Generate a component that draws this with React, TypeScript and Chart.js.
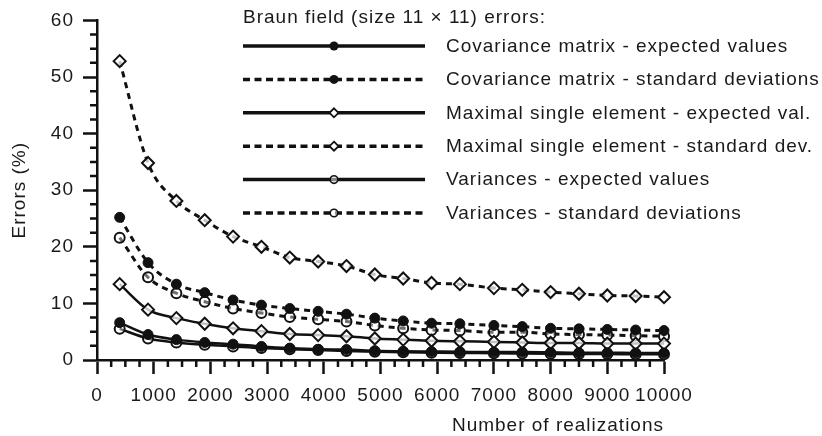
import React, { useEffect, useRef } from 'react';
import { Chart, registerables } from 'chart.js';

Chart.register(...registerables);

// Number of realizations at which the errors were estimated
const realizations = [400, 900, 1400, 1900, 2400, 2900, 3400, 3900, 4400, 4900, 5400, 5900, 6400, 7000, 7500, 8000, 8500, 9000, 9500, 10000];

// Errors (%) per series
const covExpected = [6.6, 4.5, 3.6, 3.1, 2.8, 2.4, 2.1, 1.9, 1.85, 1.65, 1.55, 1.5, 1.45, 1.4, 1.4, 1.35, 1.3, 1.3, 1.25, 1.25];
const covStd = [25.2, 17.2, 13.4, 11.9, 10.6, 9.7, 9.1, 8.6, 8.1, 7.4, 6.9, 6.5, 6.4, 6.1, 5.9, 5.6, 5.5, 5.4, 5.3, 5.2];
const maxExpected = [13.4, 8.9, 7.4, 6.4, 5.6, 5.1, 4.6, 4.4, 4.2, 3.8, 3.6, 3.4, 3.3, 3.2, 3.1, 3.0, 3.0, 2.9, 2.9, 2.9];
const maxStd = [52.8, 34.8, 28.1, 24.7, 21.8, 20.0, 18.1, 17.4, 16.6, 15.1, 14.4, 13.6, 13.4, 12.7, 12.4, 12.0, 11.7, 11.4, 11.3, 11.1];
const varExpected = [5.5, 3.8, 3.1, 2.7, 2.4, 2.1, 1.9, 1.75, 1.6, 1.45, 1.35, 1.3, 1.25, 1.2, 1.15, 1.1, 1.05, 1.05, 1.0, 1.0];
const varStd = [21.6, 14.6, 11.8, 10.3, 9.1, 8.3, 7.6, 7.2, 6.8, 6.1, 5.6, 5.3, 5.2, 4.9, 4.9, 4.6, 4.5, 4.4, 4.3, 4.2];

const seriesLabels = [
  'Covariance matrix - expected values',
  'Covariance matrix - standard deviations',
  'Maximal single element - expected val.',
  'Maximal single element - standard dev.',
  'Variances - expected values',
  'Variances - standard deviations',
];

const KEY_TITLE = 'Braun field (size 11 \u00d7 11) errors:';
const X_TITLE = 'Number of realizations';
const Y_TITLE = 'Errors (%)';

const X_MIN = 0;
const X_MAX = 10000;
const X_STEP = 1000;
const X_MINOR = 250;
const Y_MIN = 0;
const Y_MAX = 60;
const Y_STEP = 10;
const Y_MINOR = 2.5;

const INK = '#111111';
const TEXT = '#1a1a1a';
const FONT_FAMILY = "'Liberation Sans', Arial, Helvetica, sans-serif";
const FONT_SIZE = 19;
const LETTER_SPACING = '1px';
const DASH = [6, 5];

type Marker = 'filled' | 'diamond' | 'open';

const seriesDefs: { label: string; values: number[]; dashed: boolean; marker: Marker }[] = [
  { label: seriesLabels[0], values: covExpected, dashed: false, marker: 'filled' },
  { label: seriesLabels[1], values: covStd, dashed: true, marker: 'filled' },
  { label: seriesLabels[2], values: maxExpected, dashed: false, marker: 'diamond' },
  { label: seriesLabels[3], values: maxStd, dashed: true, marker: 'diamond' },
  { label: seriesLabels[4], values: varExpected, dashed: false, marker: 'open' },
  { label: seriesLabels[5], values: varStd, dashed: true, marker: 'open' },
];

function pointStyleFor(marker: Marker) {
  if (marker === 'filled') {
    return { pointStyle: 'circle', pointRadius: 5, pointBackgroundColor: INK, pointBorderWidth: 1 };
  }
  if (marker === 'diamond') {
    return { pointStyle: 'rectRot', pointRadius: 6, pointBackgroundColor: 'rgba(255,255,255,0.75)', pointBorderWidth: 2 };
  }
  return { pointStyle: 'circle', pointRadius: 5, pointBackgroundColor: 'rgba(255,255,255,0.4)', pointBorderWidth: 2 };
}

// Slightly loose tracking for every piece of canvas text
const textSpacing = {
  id: 'textSpacing',
  beforeLayout(chart: any) {
    chart.ctx.letterSpacing = LETTER_SPACING;
  },
  beforeDraw(chart: any) {
    chart.ctx.letterSpacing = LETTER_SPACING;
  },
};

// Short outward minor ticks between the labelled ones
const minorTicks = {
  id: 'minorTicks',
  afterDraw(chart: any) {
    const { ctx } = chart;
    const xs = chart.scales.x;
    const ys = chart.scales.y;
    ctx.save();
    ctx.strokeStyle = INK;
    ctx.lineWidth = 2.5;
    ctx.beginPath();
    for (let v = X_MIN + X_MINOR; v < X_MAX; v += X_MINOR) {
      if (v % X_STEP === 0) continue;
      const px = xs.getPixelForValue(v);
      ctx.moveTo(px, xs.top);
      ctx.lineTo(px, xs.top + 7);
    }
    for (let v = Y_MIN + Y_MINOR; v < Y_MAX; v += Y_MINOR) {
      if (v % Y_STEP === 0) continue;
      const py = ys.getPixelForValue(v);
      ctx.moveTo(ys.right, py);
      ctx.lineTo(ys.right - 7, py);
    }
    ctx.stroke();
    ctx.restore();
  },
};

function drawMarker(ctx: CanvasRenderingContext2D, marker: Marker, x: number, y: number) {
  ctx.save();
  ctx.setLineDash([]);
  ctx.strokeStyle = INK;
  if (marker === 'filled') {
    ctx.fillStyle = INK;
    ctx.beginPath();
    ctx.arc(x, y, 4.5, 0, Math.PI * 2);
    ctx.fill();
  } else if (marker === 'diamond') {
    const r = 4.5;
    ctx.fillStyle = '#ffffff';
    ctx.lineWidth = 1.8;
    ctx.beginPath();
    ctx.moveTo(x, y - r);
    ctx.lineTo(x + r, y);
    ctx.lineTo(x, y + r);
    ctx.lineTo(x - r, y);
    ctx.closePath();
    ctx.fill();
    ctx.stroke();
  } else {
    ctx.fillStyle = 'rgba(255,255,255,0.5)';
    ctx.lineWidth = 1.6;
    ctx.beginPath();
    ctx.arc(x, y, 3.8, 0, Math.PI * 2);
    ctx.fill();
    ctx.stroke();
  }
  ctx.restore();
}

// Key in the upper right: title line plus one sample row per series
const seriesKey = {
  id: 'seriesKey',
  afterDraw(chart: any) {
    const ctx = chart.ctx as CanvasRenderingContext2D;
    const lineStart = 243;
    const lineEnd = 425;
    const markerX = 334;
    const textX = 446;
    const firstRow = 46;
    const rowGap = 33.4;
    ctx.save();
    (ctx as any).letterSpacing = LETTER_SPACING;
    ctx.font = `${FONT_SIZE}px ${FONT_FAMILY}`;
    ctx.fillStyle = TEXT;
    ctx.textAlign = 'left';
    ctx.textBaseline = 'middle';
    ctx.fillText(KEY_TITLE, lineStart, 18);
    seriesDefs.forEach((s, i) => {
      const y = firstRow + i * rowGap;
      ctx.save();
      ctx.strokeStyle = INK;
      ctx.lineWidth = 3.5;
      ctx.setLineDash(s.dashed ? [7, 4.5] : []);
      ctx.beginPath();
      ctx.moveTo(lineStart, y);
      ctx.lineTo(lineEnd, y);
      ctx.stroke();
      ctx.restore();
      drawMarker(ctx, s.marker, markerX, y);
      ctx.fillStyle = TEXT;
      ctx.fillText(s.label, textX, y + 0.5);
    });
    ctx.restore();
  },
};

function buildConfig(): any {
  const datasets = seriesDefs.map((s) => ({
    label: s.label,
    data: realizations.map((n, i) => ({ x: n, y: s.values[i] })),
    borderColor: INK,
    borderWidth: s.dashed ? 3 : 2.5,
    borderDash: s.dashed ? DASH : [],
    pointBorderColor: INK,
    cubicInterpolationMode: 'monotone',
    fill: false,
    clip: false,
    ...pointStyleFor(s.marker),
  }));

  const tickFont = { family: FONT_FAMILY, size: FONT_SIZE };
  const plainNumber = (v: number | string) => String(v);

  return {
    type: 'line',
    data: { datasets },
    options: {
      responsive: false,
      animation: false,
      devicePixelRatio: 1,
      layout: { padding: { left: 8, right: 158, top: 20, bottom: 0 } },
      plugins: {
        legend: { display: false },
        tooltip: { enabled: false },
        title: { display: false },
      },
      scales: {
        x: {
          type: 'linear',
          min: X_MIN,
          max: X_MAX,
          afterFit(scale: any) {
            scale.height = 76;
          },
          border: { display: true, color: INK, width: 2.5 },
          grid: { drawOnChartArea: false, drawTicks: true, tickLength: 14, tickWidth: 2.5, tickColor: INK, color: INK },
          ticks: { stepSize: X_STEP, color: TEXT, font: tickFont, padding: 10, maxRotation: 0, autoSkip: false, callback: plainNumber },
          title: { display: true, text: X_TITLE, align: 'end', color: TEXT, font: tickFont, padding: { top: 0, bottom: -1 } },
        },
        y: {
          type: 'linear',
          min: Y_MIN,
          max: Y_MAX,
          afterFit(scale: any) {
            scale.width = 89;
          },
          border: { display: true, color: INK, width: 2.5 },
          grid: { drawOnChartArea: false, drawTicks: true, tickLength: 14, tickWidth: 2.5, tickColor: INK, color: INK },
          ticks: { stepSize: Y_STEP, color: TEXT, font: tickFont, padding: 9, autoSkip: false, callback: plainNumber },
          title: { display: true, text: Y_TITLE, color: TEXT, font: tickFont, padding: { top: 0, bottom: 0 } },
        },
      },
    },
    plugins: [textSpacing, minorTicks, seriesKey],
  };
}

export default function App() {
  const canvasRef = useRef<HTMLCanvasElement | null>(null);

  useEffect(() => {
    const canvas = canvasRef.current;
    if (!canvas) return;
    const chart = new Chart(canvas, buildConfig());
    return () => chart.destroy();
  }, []);

  return (
    <div style={{ position: 'absolute', left: 0, top: 0, width: 822, height: 436, background: '#ffffff' }}>
      <canvas ref={canvasRef} width={822} height={436} style={{ display: 'block', width: 822, height: 436 }} />
    </div>
  );
}
